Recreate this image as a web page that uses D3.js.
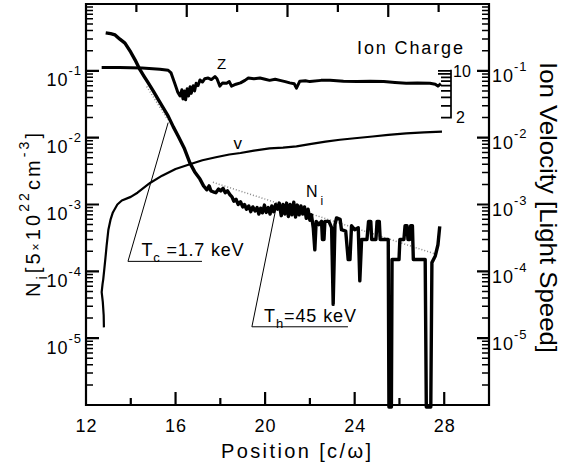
<!DOCTYPE html>
<html>
<head>
<meta charset="utf-8">
<script src="https://cdn.jsdelivr.net/npm/d3@7"></script>
<style>
	body { margin: 0; background: #fff; overflow: hidden; }
	svg { display: block; }
	text { font-family: "Liberation Sans", Arial, Helvetica, sans-serif; fill: #000; }
</style>
</head>
<body>
<div id="graph"></div>
<script>

// Axis ticks and labels
var xTicksMajor = [12, 16, 20, 24, 28];
var xTicksMinor = [14, 18, 22, 26];
var xTickLabels = ['12', '16', '20', '24', '28'];
var yDecades = [1e-5, 1e-4, 1e-3, 1e-2, 1e-1];
var yDecadeExponents = ['-5', '-4', '-3', '-2', '-1'];
var topTicksMajor = [2, 4, 6];
var topTicksMinor = [1, 3, 5, 7];
var zTicks = [2, 3, 4, 5, 6, 7, 8, 9, 10];
var zTickLabels = ['2', '10'];
var zTickLabelValues = [2, 10];

// Ion density N_i  [position, density]
var niData = [
	[12.88, 0.37], [13.1, 0.36], [13.3, 0.345], [13.5, 0.30], [13.74, 0.26], [14.0, 0.19],
	[14.19, 0.146], [14.41, 0.104], [14.6, 0.082], [14.78, 0.066], [15.0, 0.050], [15.23, 0.037],
	[15.45, 0.028], [15.67, 0.021], [15.9, 0.0145], [16.12, 0.0105], [16.4, 0.0068], [16.64, 0.0042],
	[16.85, 0.0031], [17.09, 0.0024], [17.25, 0.0019], [17.4, 0.00166], [17.5, 0.0019], [17.58, 0.0016],
	[17.68, 0.00155], [17.8, 0.0015], [17.92, 0.0017], [18.02, 0.0016], [18.12, 0.00175], [18.22, 0.0015],
	[18.32, 0.0016], [18.43, 0.0014], [18.52, 0.0013], [18.6, 0.00112], [18.7, 0.0012], [18.8, 0.001],
	[18.9, 0.0011], [19.0, 0.00092], [19.08, 0.001], [19.17, 0.00085], [19.27, 0.00095], [19.36, 0.00078],
	[19.45, 0.00092], [19.55, 0.0008], [19.64, 0.0009], [19.72, 0.00072], [19.8, 0.00088], [19.88, 0.00075],
	[19.97, 0.00098], [20.05, 0.00076], [20.14, 0.0009], [20.22, 0.00072], [20.3, 0.00095], [20.38, 0.00078],
	[20.47, 0.001], [20.55, 0.00085], [20.63, 0.00105], [20.72, 0.00068], [20.8, 0.001], [20.88, 0.00072],
	[20.96, 0.00105], [21.04, 0.00066], [21.12, 0.001], [21.2, 0.0007], [21.28, 0.00108], [21.36, 0.00065],
	[21.44, 0.00098], [21.52, 0.0007], [21.6, 0.00095], [21.68, 0.00072], [21.76, 0.00092], [21.84, 0.00062],
	[21.92, 0.00085], [22.0, 0.00058], [22.07, 0.0007], [22.15, 0.00045], [22.22, 0.00021], [22.28, 0.00056],
	[22.4, 0.0005], [22.52, 0.00056], [22.56, 0.0003], [22.63, 0.0003], [22.67, 0.00056], [22.85, 0.00056],
	[22.97, 0.00045], [23.04, 0.000032], [23.12, 0.0005], [23.19, 0.00063], [23.35, 0.0006], [23.41, 0.00042],
	[23.6, 0.0004], [23.71, 0.00015], [23.79, 0.00015], [23.86, 0.00048], [24.0, 0.00042], [24.16, 0.00045],
	[24.23, 0.000072], [24.31, 0.0003], [24.55, 0.0003], [24.62, 0.00056], [24.72, 0.00056], [24.76, 0.0003],
	[24.95, 0.0003], [25.0, 0.00056], [25.1, 0.00056], [25.14, 0.0003], [25.5, 0.0003], [25.53, 1e-8],
	[25.64, 1e-8], [25.67, 0.00015], [25.98, 0.00015], [26.02, 0.0003], [26.2, 0.0003], [26.25, 0.00048],
	[26.34, 0.00048], [26.38, 0.0003], [26.46, 0.0003], [26.5, 0.00048], [26.58, 0.00048], [26.62, 0.00015],
	[27.15, 0.00015], [27.2, 1e-8], [27.4, 1e-8], [27.45, 0.000135], [27.6, 0.00017], [27.72, 0.00025],
	[27.8, 0.00047]
];

// Ion charge Z  [position, charge]
var zData = [
	[12.7, 11.2], [13.5, 11.2], [14.5, 11.0], [15.3, 10.6], [15.67, 10.2], [15.8, 9.3], [15.97, 6.4],
	[16.1, 4.8], [16.2, 4.2], [16.28, 5.2], [16.33, 3.8], [16.4, 5.0], [16.45, 3.7], [16.52, 5.4],
	[16.58, 4.2], [16.65, 5.8], [16.7, 4.6], [16.79, 6.0], [16.85, 5.0], [16.92, 6.5], [17.0, 6.0],
	[17.09, 7.3], [17.2, 6.8], [17.3, 7.6], [17.46, 7.8], [17.6, 7.4], [17.76, 8.2], [17.85, 7.6],
	[17.98, 5.9], [18.1, 6.6], [18.28, 6.5], [18.4, 6.9], [18.5, 5.9], [18.7, 6.3], [18.9, 6.6],
	[19.1, 7.2], [19.25, 7.8], [19.5, 7.6], [19.77, 7.8], [20.0, 7.5], [20.2, 7.2], [20.45, 7.5],
	[20.66, 7.2], [20.9, 6.9], [21.1, 6.6], [21.3, 6.4], [21.4, 5.5], [21.55, 7.0], [21.8, 7.1],
	[22.0, 6.9], [22.5, 7.2], [22.9, 7.2], [23.5, 7.0], [24.1, 6.9], [24.7, 7.0], [25.3, 6.9],
	[25.8, 6.7], [26.3, 6.5], [26.8, 6.6], [27.36, 6.5], [27.6, 6.3], [27.72, 5.9], [27.85, 6.4]
];

// Ion velocity v  [position, light speed]
var vData = [
	[12.80, 1.45e-5], [12.79, 2.2e-5], [12.75, 3.5e-5], [12.70, 4.9e-5], [12.74, 6.5e-5], [12.77, 7.6e-5],
	[12.82, 1.1e-4], [12.87, 1.6e-4], [12.92, 2.4e-4], [13.0, 4.2e-4], [13.1, 6.0e-4], [13.2, 7.6e-4],
	[13.4, 1.0e-3], [13.6, 1.15e-3], [14.0, 1.3e-3], [14.3, 1.5e-3], [14.86, 2.1e-3], [15.4, 2.7e-3],
	[16.0, 3.4e-3], [16.64, 4.0e-3], [17.2, 4.6e-3], [17.8, 5.1e-3], [18.4, 5.6e-3], [18.9, 5.9e-3],
	[19.5, 6.4e-3], [20.2, 6.9e-3], [20.8, 7.1e-3], [21.4, 7.4e-3], [22.0, 8.0e-3], [22.7, 8.7e-3],
	[23.34, 9.3e-3], [24.0, 9.8e-3], [24.8, 1.04e-2], [25.5, 1.1e-2], [26.3, 1.16e-2], [27.1, 1.2e-2],
	[27.9, 1.23e-2]
];

// Temperature fits and their leader lines
var tcFit = [[14.71, 0.0583], [15.65, 0.0186]];
var thFit = [[17.67, 0.00215], [27.67, 0.000179]];
var tcLeader = [[15.67, 0.0168], [13.875, 0.000141], [17.18, 0.000141]];
var thLeader = [[20.51, 0.00097], [19.41, 0.0000148], [23.7, 0.0000148]];


var svgWidth = 576,
	svgHeight = 468;

var plotLeft = 86,
	plotRight = 489,
	plotTop = 4,
	plotBottom = 405;


var xScale = d3.scaleLinear()
				.domain([12, 30])
				.range([plotLeft, plotRight]);

var yScale = d3.scaleLog()
				.domain([1e-6, 1])
				.range([plotBottom, plotTop]);

// Ion charge shares the vertical log scale (Z = 10 sits at 10^-1)
var zScale = d3.scaleLog()
				.domain([2, 10])
				.range([yScale(0.02), yScale(0.1)]);

var topScale = d3.scaleLinear()
				.domain([0, 8])
				.range([plotLeft, plotRight]);


var svg = d3.select('#graph').append('svg')
			.attr('width', svgWidth)
			.attr('height', svgHeight);


// Path commands for a set of ticks; vertical == true for ticks on the left/right edges
function tickCommands(values, scale, base, len, dir, vertical) {
	return values.map(function(v) {
		var p = scale(v);
		var l = typeof len == 'function' ? len(v) : len;
		if (vertical) {
			return 'M' + base + ',' + p + 'H' + (base + dir * l);
		}
		return 'M' + p + ',' + base + 'V' + (base + dir * l);
	}).join('');
}


function drawFrame() {
	var minorY = yScale.ticks().filter(function(d) {
		return yDecades.indexOf(d) < 0 && d > 1e-6 && d < 1;
	});

	// Frame outline and major ticks in one path
	var major = 'M' + plotLeft + ',' + plotTop + 'H' + plotRight + 'V' + plotBottom + 'H' + plotLeft + 'Z'
		+ tickCommands(xTicksMajor, xScale, plotBottom, 13, -1, false)
		+ tickCommands(xTicksMinor, xScale, plotBottom, 7, -1, false)
		+ tickCommands(topTicksMajor, topScale, plotTop, 13, 1, false)
		+ tickCommands(topTicksMinor, topScale, plotTop, 8, 1, false)
		+ tickCommands(yDecades, yScale, plotLeft, 13, 1, true)
		+ tickCommands(yDecades, yScale, plotRight, 12, -1, true);

	svg.append('path')
		.attr('d', major)
		.attr('fill', 'none')
		.attr('stroke', '#000')
		.attr('stroke-width', 2.2);

	// Minor log ticks on both sides
	var minor = tickCommands(minorY, yScale, plotLeft, 7, 1, true)
		+ tickCommands(minorY, yScale, plotRight, 7, -1, true);

	svg.append('path')
		.attr('d', minor)
		.attr('fill', 'none')
		.attr('stroke', '#000')
		.attr('stroke-width', 1.5);
}


function drawAxes() {
	// Small ion charge axis
	var zx = 451;
	var zPath = tickCommands(zTicks, zScale, zx, function(d) { return (d == 10 || d == 9) ? 13 : 10; }, -1, true)
		+ 'M' + zx + ',' + (zScale(10) - 1) + 'V' + (zScale(2) + 1);
	svg.append('path')
		.attr('d', zPath)
		.attr('fill', 'none')
		.attr('stroke', '#000')
		.attr('stroke-width', 1.7);

	svg.selectAll('.zLabel').data(zTickLabelValues).enter()
		.append('text')
			.attr('class', 'zLabel')
			.attr('x', function(d) { return d == 10 ? zx + 2 : zx + 5; })
			.attr('y', function(d) { return zScale(d); })
			.attr('dy', '0.36em')
			.attr('font-size', 16)
			.text(function(d, i) { return zTickLabels[i]; });

	// x tick labels
	svg.selectAll('.xLabel').data(xTicksMajor).enter()
		.append('text')
			.attr('class', 'xLabel')
			.attr('x', function(d) { return xScale(d) + 0.5; })
			.attr('y', plotBottom + 27)
			.attr('text-anchor', 'middle')
			.attr('font-size', 18)
			.attr('letter-spacing', 1)
			.text(function(d, i) { return xTickLabels[i]; });

	// Left decade labels
	var leftLabels = svg.selectAll('.yLabelLeft').data(yDecades).enter()
		.append('text')
			.attr('class', 'yLabelLeft')
			.attr('x', 82)
			.attr('y', function(d) { return yScale(d) + 15.5; })
			.attr('text-anchor', 'end')
			.attr('font-size', 18)
			.attr('letter-spacing', 1);
	leftLabels.append('tspan').text('10');
	leftLabels.append('tspan')
		.attr('dy', -11)
		.attr('font-size', 13)
		.text(function(d, i) { return yDecadeExponents[i]; });

	// Right decade labels
	var rightLabels = svg.selectAll('.yLabelRight').data(yDecades).enter()
		.append('text')
			.attr('class', 'yLabelRight')
			.attr('x', 492)
			.attr('y', function(d) { return yScale(d) + 11.5; })
			.attr('font-size', 18)
			.attr('letter-spacing', 1);
	rightLabels.append('tspan').text('10');
	rightLabels.append('tspan')
		.attr('dy', -11)
		.attr('font-size', 13)
		.text(function(d, i) { return yDecadeExponents[i]; });

	// Axis titles
	svg.append('text')
		.attr('x', 296)
		.attr('y', 458)
		.attr('text-anchor', 'middle')
		.attr('font-size', 20)
		.attr('textLength', 150)
		.attr('lengthAdjust', 'spacing')
		.text('Position [c/\u03c9]');

	var yTitle = svg.append('text')
		.attr('transform', 'translate(40,297) rotate(-90)')
		.attr('font-size', 20)
		.attr('textLength', 164)
		.attr('lengthAdjust', 'spacing');
	yTitle.append('tspan').text('N');
	yTitle.append('tspan').attr('font-size', 14).attr('dy', 7).text('i');
	yTitle.append('tspan').attr('dy', -7).text('[5');
	yTitle.append('tspan').attr('font-size', 12).text('\u00d7');
	yTitle.append('tspan').text('10');
	yTitle.append('tspan').attr('font-size', 14).attr('dy', -11).text('22');
	yTitle.append('tspan').attr('dy', 11).text('cm');
	yTitle.append('tspan').attr('font-size', 14).attr('dy', -11).text('-3');
	yTitle.append('tspan').attr('dy', 11).text(']');

	svg.append('text')
		.attr('transform', 'translate(540,62) rotate(90)')
		.attr('font-size', 24)
		.attr('textLength', 291)
		.attr('lengthAdjust', 'spacingAndGlyphs')
		.text('Ion Velocity [Light Speed]');

	svg.append('text')
		.attr('x', 463)
		.attr('y', 54)
		.attr('text-anchor', 'end')
		.attr('font-size', 18)
		.attr('textLength', 106)
		.attr('lengthAdjust', 'spacing')
		.text('Ion Charge');
}


function drawCurves() {
	var line = d3.line()
		.x(function(d) { return xScale(d[0]); })
		.y(function(d) { return Math.min(yScale(d[1]), plotBottom + 2); });

	var zLine = d3.line()
		.x(function(d) { return xScale(d[0]); })
		.y(function(d) { return zScale(d[1]); });

	var curves = svg.append('g');

	// Fits (grey dotted)
	[tcFit, thFit].forEach(function(fit) {
		curves.append('path')
			.attr('d', line(fit))
			.attr('fill', 'none')
			.attr('stroke', '#888')
			.attr('stroke-width', 1.5)
			.attr('stroke-dasharray', '1,2');
	});

	curves.append('path')
		.attr('d', line(vData))
		.attr('fill', 'none')
		.attr('stroke', '#000')
		.attr('stroke-width', 2.2)
		.attr('stroke-linejoin', 'round');

	curves.append('path')
		.attr('d', zLine(zData))
		.attr('fill', 'none')
		.attr('stroke', '#000')
		.attr('stroke-width', 3)
		.attr('stroke-linejoin', 'round');

	curves.append('path')
		.attr('d', line(niData))
		.attr('fill', 'none')
		.attr('stroke', '#000')
		.attr('stroke-width', 3.4)
		.attr('stroke-linejoin', 'round');

	// Leader lines for the temperature labels
	[tcLeader, thLeader].forEach(function(l) {
		curves.append('path')
			.attr('d', line(l))
			.attr('fill', 'none')
			.attr('stroke', '#000')
			.attr('stroke-width', 1);
	});
}


function drawLabels() {
	svg.append('text')
		.attr('x', xScale(18.06))
		.attr('y', 68.5)
		.attr('text-anchor', 'middle')
		.attr('font-size', 15)
		.text('Z');

	svg.append('text')
		.attr('x', xScale(18.78))
		.attr('y', 149)
		.attr('text-anchor', 'middle')
		.attr('font-size', 17)
		.text('v');

	var ni = svg.append('text')
		.attr('x', 306)
		.attr('y', 197)
		.attr('font-size', 16);
	ni.append('tspan').text('N');
	ni.append('tspan').attr('font-size', 12).attr('dx', 3).attr('dy', 8).text('i');

	var tc = svg.append('text')
		.attr('x', 141.5)
		.attr('y', 256)
		.attr('font-size', 18)
		.attr('textLength', 102)
		.attr('lengthAdjust', 'spacing');
	tc.append('tspan').text('T');
	tc.append('tspan').attr('font-size', 13).attr('dy', 6).text('c');
	tc.append('tspan').attr('dy', -6).text(' =1.7 keV');

	var th = svg.append('text')
		.attr('x', 264)
		.attr('y', 322)
		.attr('font-size', 18)
		.attr('textLength', 92)
		.attr('lengthAdjust', 'spacing');
	th.append('tspan').text('T');
	th.append('tspan').attr('font-size', 13).attr('dy', 6).text('h');
	th.append('tspan').attr('dy', -6).text('=45 keV');
}


drawCurves();
drawAxes();
drawLabels();
drawFrame();

</script>
</body>
</html>
